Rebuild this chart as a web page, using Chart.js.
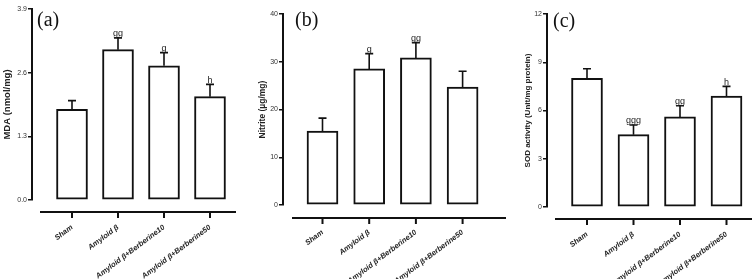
<!DOCTYPE html>
<html lang="en">
<head>
<meta charset="UTF-8">
<title>MDA / Nitrite / SOD</title>
<style>
  body { margin: 0; background: #fff; }
  .wrap { position: relative; width: 752px; height: 279px; overflow: hidden; background: #fff; }
  .wrap canvas { position: absolute; top: 0; }
  .tag { position: absolute; font-family: 'Liberation Serif', 'DejaVu Serif', serif; font-size: 20px; line-height: 1; color: #111; }
</style>
</head>
<body>
<div class="wrap">
  <canvas id="chartA" width="250" height="279" style="left:0px"></canvas>
  <canvas id="chartB" width="250" height="279" style="left:256px"></canvas>
  <canvas id="chartC" width="231" height="279" style="left:521px"></canvas>
  <div class="tag" style="left:37px; top:9px">(a)</div>
  <div class="tag" style="left:295px; top:9px">(b)</div>
  <div class="tag" style="left:553px; top:10px">(c)</div>
</div>

<script src="https://cdn.jsdelivr.net/npm/chart.js"></script>
<script>
  // groups (same for all three panels)
  const categories = ['Sham', 'Amyloid β', 'Amyloid β+Berberine10', 'Amyloid β+Berberine50'];

  // (a) MDA
  const mdaMeans = [1.85, 3.07, 2.74, 2.11];
  const mdaErr = [0.18, 0.24, 0.27, 0.25];
  const mdaSig = ['', 'gg', 'g', 'h'];
  const mdaTicks = [0, 1.3, 2.6, 3.9];

  // (b) Nitrite
  const nitriteMeans = [15.5, 28.5, 30.8, 24.7];
  const nitriteErr = [2.7, 3.2, 3.2, 3.3];
  const nitriteSig = ['', 'g', 'gg', ''];
  const nitriteTicks = [0, 10, 20, 30, 40];

  // (c) SOD
  const sodMeans = [8.0, 4.5, 5.6, 6.9];
  const sodErr = [0.6, 0.6, 0.7, 0.6];
  const sodSig = ['', 'ggg', 'gg', 'h'];
  const sodTicks = [0, 3, 6, 9, 12];

  const narrow = "'Liberation Sans Narrow', 'Liberation Sans', Arial, sans-serif";
  const sans = "'Liberation Sans', Arial, sans-serif";

  // error bars, significance letters and the detached x axis line
  const panelExtras = {
    id: 'panelExtras',
    afterDatasetsDraw(chart, args, opts) {
      const ctx = chart.ctx;
      const xs = chart.scales.x, ys = chart.scales.y;
      const pts = chart.data.datasets[0].data;
      ctx.save();
      ctx.strokeStyle = '#111';
      ctx.fillStyle = '#222';
      ctx.lineWidth = 1.6;
      ctx.font = '9px ' + sans;
      ctx.textAlign = 'center';
      ctx.textBaseline = 'alphabetic';
      pts.forEach((p, i) => {
        const px = xs.getPixelForValue(p.x);
        const top = ys.getPixelForValue(p.y);
        const cap = ys.getPixelForValue(p.y + opts.err[i]);
        ctx.beginPath();
        ctx.moveTo(px, top);
        ctx.lineTo(px, cap);
        ctx.moveTo(px - 4, cap);
        ctx.lineTo(px + 4, cap);
        ctx.stroke();
        if (opts.sig[i]) ctx.fillText(opts.sig[i], px, cap - 1.5);
      });

      const ly = chart.chartArea.bottom + opts.gap;
      ctx.lineWidth = 2;
      ctx.beginPath();
      ctx.moveTo(opts.lineL, ly);
      ctx.lineTo(opts.lineR, ly);
      pts.forEach(p => {
        const px = xs.getPixelForValue(p.x);
        ctx.moveTo(px, ly);
        ctx.lineTo(px, ly + 6);
      });
      ctx.stroke();
      ctx.restore();
    }
  };

  function makePanel(id, cfg) {
    const canvas = document.getElementById(id);
    const W = canvas.width, H = canvas.height;
    const xMin = -(cfg.x0 - cfg.axisX) / cfg.dx;
    const xMax = xMin + (W - cfg.axisX) / cfg.dx;

    return new Chart(canvas, {
      type: 'bar',
      data: {
        datasets: [{
          data: cfg.means.map((v, i) => ({ x: i, y: v })),
          backgroundColor: '#ffffff',
          borderColor: '#111111',
          borderWidth: 2,
          borderSkipped: false,
          barThickness: 31
        }]
      },
      options: {
        responsive: false,
        animation: false,
        layout: { padding: { left: 0, right: 0, top: cfg.top, bottom: 0 } },
        plugins: {
          legend: { display: false },
          tooltip: { enabled: false },
          panelExtras: { err: cfg.err, sig: cfg.sig, gap: cfg.gap, lineL: cfg.lineL, lineR: cfg.lineR }
        },
        scales: {
          x: {
            type: 'linear',
            offset: false,
            min: xMin,
            max: xMax,
            afterBuildTicks: s => { s.ticks = categories.map((c, i) => ({ value: i })); },
            afterFit: s => {
              s.height = H - cfg.bottom;
              s.paddingLeft = 0;
              s.paddingRight = 0;
            },
            grid: { display: false, offset: false, drawTicks: true, tickLength: 23 },
            border: { display: false },
            ticks: {
              autoSkip: false,
              minRotation: 37,
              maxRotation: 37,
              padding: 0,
              color: '#222',
              font: { family: sans, size: 7.5, style: 'italic', weight: 'bold' },
              callback: v => categories[v]
            }
          },
          y: {
            min: cfg.ticks[0],
            max: cfg.ticks[cfg.ticks.length - 1],
            afterBuildTicks: s => { s.ticks = cfg.ticks.map(v => ({ value: v })); },
            afterFit: s => { s.width = cfg.axisX; },
            grid: { drawOnChartArea: false, color: '#111', lineWidth: 1.5, tickLength: 4 },
            border: { color: '#111', width: 2 },
            ticks: {
              padding: 1,
              color: '#333',
              font: { family: narrow, size: 7 },
              callback: v => cfg.fmt(v)
            },
            title: {
              display: true,
              text: cfg.title,
              color: '#222',
              padding: { top: 2, bottom: 0 },
              font: { family: sans, size: cfg.titleSize, weight: 'bold' }
            }
          }
        }
      },
      plugins: [panelExtras]
    });
  }

  window.onload = () => {
    makePanel('chartA', {
      means: mdaMeans, err: mdaErr, sig: mdaSig, ticks: mdaTicks,
      fmt: v => v.toFixed(1), title: 'MDA (nmol/mg)', titleSize: 9.5,
      axisX: 32, top: 9, bottom: 200, x0: 72, dx: 46, gap: 12, lineL: 40, lineR: 236
    });
    makePanel('chartB', {
      means: nitriteMeans, err: nitriteErr, sig: nitriteSig, ticks: nitriteTicks,
      fmt: v => String(v), title: 'Nitrite (µg/mg)', titleSize: 8.5,
      axisX: 27, top: 14, bottom: 205, x0: 66.5, dx: 46.7, gap: 13, lineL: 36, lineR: 250
    });
    makePanel('chartC', {
      means: sodMeans, err: sodErr, sig: sodSig, ticks: sodTicks,
      fmt: v => String(v), title: 'SOD activity (Unit/mg protein)', titleSize: 8,
      axisX: 26, top: 14, bottom: 207, x0: 66, dx: 46.5, gap: 12, lineL: 34, lineR: 231
    });
  };
</script>
</body>
</html>
